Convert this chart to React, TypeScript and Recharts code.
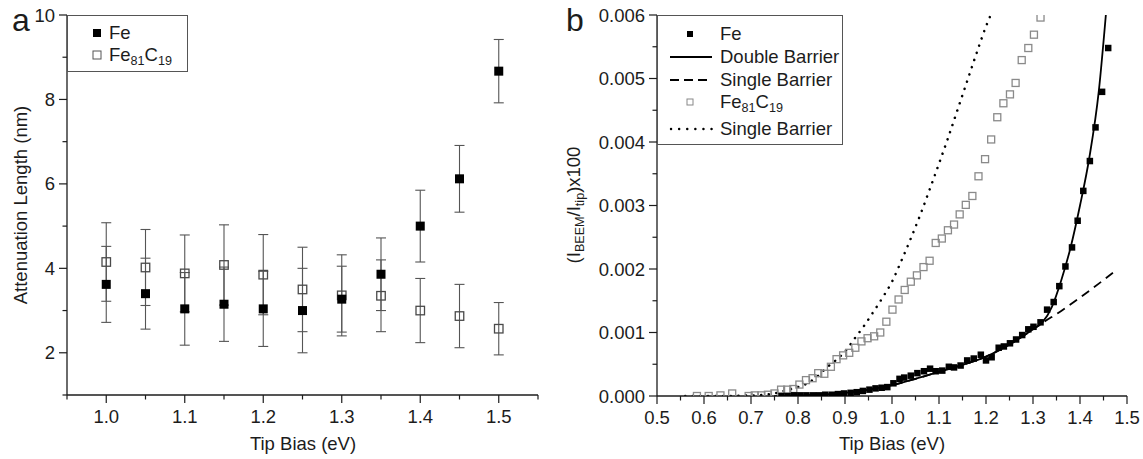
import { ComposedChart, Scatter, Line, XAxis, YAxis, ErrorBar } from "recharts";

const FONT = "'Liberation Sans', Arial, Helvetica, sans-serif";
const INK = "#1c1c1c";

// ---------- panel a: attenuation length ----------
const biasA = [1.0, 1.05, 1.1, 1.15, 1.2, 1.25, 1.3, 1.35, 1.4, 1.45, 1.5];
const feLen = [3.62, 3.4, 3.04, 3.15, 3.04, 3.0, 3.27, 3.86, 5.0, 6.12, 8.67];
const feErr = [0.9, 0.84, 0.86, 0.88, 0.89, 1.0, 0.78, 0.86, 0.85, 0.79, 0.75];
const fecLen = [4.15, 4.02, 3.88, 4.08, 3.85, 3.5, 3.36, 3.35, 3.0, 2.87, 2.57];
const fecErr = [0.93, 0.9, 0.91, 0.95, 0.95, 1.0, 0.96, 0.85, 0.76, 0.75, 0.62];

const xTicksA = [0.95, 1.0, 1.05, 1.1, 1.15, 1.2, 1.25, 1.3, 1.35, 1.4, 1.45, 1.5, 1.55];
const xLabelsA = [1.0, 1.1, 1.2, 1.3, 1.4, 1.5];
const yTicksA = [1, 2, 3, 4, 5, 6, 7, 8, 9, 10];
const yLabelsA = [2, 4, 6, 8, 10];

// ---------- panel b: BEEM current ----------
const feBias = [
  0.765, 0.778, 0.792, 0.805, 0.818, 0.832, 0.845, 0.858, 0.872, 0.885, 0.898, 0.912, 0.925, 0.938,
  0.952, 0.965, 0.978, 0.99, 1.003, 1.016, 1.026, 1.04, 1.054, 1.068, 1.081, 1.093, 1.107, 1.121,
  1.132, 1.146, 1.16, 1.174, 1.189, 1.2, 1.212, 1.227, 1.238, 1.251, 1.264, 1.277, 1.29, 1.301,
  1.316, 1.33, 1.344, 1.356, 1.369, 1.383, 1.395, 1.407, 1.421, 1.433, 1.447, 1.46,
];
const feCurrent = [
  0, 0, 0.00001, 0.00001, 0.00001, 0.00001, 0.00001, 0.00002, 0.00002, 0.00003, 0.00004, 0.00005,
  0.00006, 0.00008, 0.0001, 0.00012, 0.00013, 0.00014, 0.0002, 0.00027, 0.00029, 0.00032, 0.00036,
  0.00039, 0.00043, 0.00039, 0.0004, 0.00046, 0.00045, 0.00048, 0.00056, 0.00059, 0.00065, 0.00056,
  0.00061, 0.00076, 0.00078, 0.00083, 0.00089, 0.00096, 0.00105, 0.00109, 0.00116, 0.00136, 0.00148,
  0.00173, 0.00204, 0.00234, 0.00276, 0.00323, 0.0037, 0.00423, 0.00479, 0.00548,
];

const fecBias = [
  0.585, 0.61, 0.635, 0.66, 0.695, 0.708, 0.722, 0.736, 0.75, 0.764, 0.777, 0.79, 0.803, 0.817,
  0.831, 0.843, 0.856, 0.87, 0.882, 0.896, 0.909, 0.922, 0.935, 0.948, 0.962, 0.975, 0.988, 1.001,
  1.014, 1.027, 1.04, 1.053, 1.067, 1.08, 1.093, 1.106, 1.119, 1.132, 1.144, 1.157, 1.171, 1.184,
  1.198, 1.211, 1.224, 1.237, 1.251, 1.263, 1.276, 1.29, 1.302, 1.316,
];
const fecCurrent = [
  0, 0, 0.00001, 0.00004, 0, 0.00001, 0.00001, 0.00002, 0.00004, 0.0001, 0.0001, 0.00011, 0.00018,
  0.00025, 0.00028, 0.00036, 0.00035, 0.00046, 0.00058, 0.00064, 0.00068, 0.00076, 0.00086,
  0.00091, 0.00094, 0.001, 0.00117, 0.00136, 0.00152, 0.00167, 0.0018, 0.0019, 0.00203, 0.00213,
  0.00241, 0.00248, 0.00261, 0.0027, 0.00286, 0.00301, 0.00315, 0.00346, 0.00373, 0.00404, 0.00439,
  0.00461, 0.00475, 0.00493, 0.00529, 0.00548, 0.00569, 0.00596,
];

const doubleBias = [0.75, 0.8, 0.85, 0.9, 0.95, 1.0, 1.05, 1.1, 1.15, 1.2, 1.25, 1.3, 1.32, 1.34, 1.36, 1.38, 1.4, 1.42, 1.44, 1.455];
const doubleFit = [0, 0.000005, 0.00002, 0.00005, 0.0001, 0.00017, 0.00027, 0.00038, 0.00049, 0.00062, 0.00081, 0.00105, 0.00116, 0.0014, 0.00182, 0.00234, 0.003, 0.00376, 0.0048, 0.006];

const singleFeBias = [0.75, 0.8, 0.85, 0.9, 0.95, 1.0, 1.05, 1.1, 1.15, 1.2, 1.25, 1.3, 1.32, 1.36, 1.4, 1.44, 1.48];
const singleFeFit = [0, 0.000005, 0.00002, 0.00005, 0.0001, 0.00017, 0.00027, 0.00038, 0.00049, 0.00062, 0.00081, 0.00105, 0.00115, 0.00134, 0.00155, 0.00177, 0.002];

const singleFecBias = [0.56, 0.6, 0.64, 0.68, 0.71, 0.73, 0.75, 0.77, 0.79, 0.82, 0.84, 0.86, 0.88, 0.9, 0.92, 0.94, 0.96, 0.98, 1.0, 1.02, 1.04, 1.06, 1.08, 1.1, 1.12, 1.14, 1.16, 1.18, 1.2, 1.21];
const singleFecFit = [0, 0, 0, 0.000005, 0.00001, 0.00002, 0.00004, 0.00008, 0.00012, 0.0002, 0.0003, 0.00044, 0.00056, 0.0007, 0.0009, 0.0011, 0.00132, 0.00155, 0.0018, 0.00213, 0.00248, 0.00285, 0.00325, 0.00366, 0.00408, 0.00452, 0.00496, 0.0054, 0.00582, 0.006];

const xTicksB = [0.5, 0.55, 0.6, 0.65, 0.7, 0.75, 0.8, 0.85, 0.9, 0.95, 1.0, 1.05, 1.1, 1.15, 1.2, 1.25, 1.3, 1.35, 1.4, 1.45, 1.5];
const xLabelsB = [0.5, 0.6, 0.7, 0.8, 0.9, 1.0, 1.1, 1.2, 1.3, 1.4, 1.5];
const yTicksB = [0, 0.0005, 0.001, 0.0015, 0.002, 0.0025, 0.003, 0.0035, 0.004, 0.0045, 0.005, 0.0055, 0.006];
const yLabelsB = [0, 0.001, 0.002, 0.003, 0.004, 0.005, 0.006];

const pairs = (xs: number[], ys: number[]) => xs.map((x, i) => ({ x, y: ys[i] }));
const withErr = (xs: number[], ys: number[], es: number[]) =>
  xs.map((x, i) => ({ x, y: ys[i], err: es[i] }));

const near = (a: number, b: number) => Math.abs(a - b) < 1e-9;

const bottomTick = (labels: number[], digits: number) => (props: any) => {
  const { x, y, payload } = props;
  const major = labels.some((l) => near(l, payload.value));
  return (
    <g>
      <line x1={x} x2={x} y1={y} y2={y + (major ? 8 : 4.5)} stroke={INK} strokeWidth={1.2} />
      {major && (
        <text x={x} y={y + 28} textAnchor="middle" fontSize={18.5} fontFamily={FONT} fill={INK}>
          {payload.value.toFixed(digits)}
        </text>
      )}
    </g>
  );
};

const leftTick = (labels: number[], digits: number) => (props: any) => {
  const { x, y, payload } = props;
  const major = labels.some((l) => near(l, payload.value));
  return (
    <g>
      <line x1={x} x2={x - (major ? 8 : 4.5)} y1={y} y2={y} stroke={INK} strokeWidth={1.2} />
      {major && (
        <text x={x - 12} y={y + 6.5} textAnchor="end" fontSize={18.5} fontFamily={FONT} fill={INK}>
          {payload.value.toFixed(digits)}
        </text>
      )}
    </g>
  );
};

const topTick = (props: any) => {
  const { x, y } = props;
  return <line x1={x} x2={x} y1={y} y2={y + 4} stroke={INK} strokeWidth={1} />;
};

const square = (size: number, fill: string, stroke: string, sw: number) => (props: any) => {
  const { cx, cy } = props;
  if (cx == null || cy == null) return <g />;
  return (
    <rect x={cx - size / 2} y={cy - size / 2} width={size} height={size} fill={fill} stroke={stroke} strokeWidth={sw} />
  );
};

const FeC = () => (
  <span>
    Fe<sub style={{ fontSize: "0.68em", verticalAlign: "-0.3em" }}>81</sub>C
    <sub style={{ fontSize: "0.68em", verticalAlign: "-0.3em" }}>19</sub>
  </span>
);

const abs = (left: number, top: number): React.CSSProperties => ({ position: "absolute", left, top });

const PanelA = () => (
  <div style={abs(0, 0)}>
    <ComposedChart width={570} height={459} margin={{ top: 15, right: 32, bottom: 34, left: 27 }}>
      <XAxis
        dataKey="x"
        type="number"
        domain={[0.95, 1.55]}
        ticks={xTicksA}
        interval={0}
        tickSize={0}
        tickMargin={0}
        tickLine={false}
        tick={bottomTick(xLabelsA, 1)}
        height={30}
        stroke={INK}
        strokeWidth={1.3}
      />
      <XAxis
        xAxisId="top"
        orientation="top"
        type="number"
        domain={[0.95, 1.55]}
        ticks={xTicksA}
        interval={0}
        tickSize={0}
        tickLine={false}
        tick={topTick}
        height={0}
        stroke={INK}
        strokeWidth={1.3}
      />
      <YAxis
        type="number"
        domain={[1, 10]}
        ticks={yTicksA}
        interval={0}
        tickSize={0}
        tickMargin={0}
        tickLine={false}
        tick={leftTick(yLabelsA, 0)}
        width={40}
        stroke={INK}
        strokeWidth={1.3}
      />
      <YAxis yAxisId="right" orientation="right" domain={[1, 10]} tick={false} tickLine={false} width={0} stroke={INK} strokeWidth={1.3} />
      <Scatter data={withErr(biasA, fecLen, fecErr)} dataKey="y" isAnimationActive={false} shape={square(8.5, "none", "#4a4a4a", 1.3)}>
        <ErrorBar dataKey="err" direction="y" width={5} stroke="#555" strokeWidth={1.1} />
      </Scatter>
      <Scatter data={withErr(biasA, feLen, feErr)} dataKey="y" isAnimationActive={false} shape={square(9, "#000", "#000", 0)}>
        <ErrorBar dataKey="err" direction="y" width={5} stroke="#555" strokeWidth={1.1} />
      </Scatter>
    </ComposedChart>

    {/* legend a */}
    <div
      style={{
        ...abs(67, 15),
        width: 121,
        height: 57,
        boxSizing: "border-box",
        border: "1px solid #555",
        background: "#fff",
        fontSize: 18.5,
        lineHeight: 1,
      }}
    >
      <div style={{ ...abs(24, 8) }}>
        <svg width={10} height={10} style={{ position: "absolute", left: 0, top: 4 }}>
          <rect x={1} y={1} width={8} height={8} fill="#000" />
        </svg>
        <span style={{ position: "absolute", left: 17, top: 0 }}>Fe</span>
      </div>
      <div style={{ ...abs(24, 30) }}>
        <svg width={10} height={10} style={{ position: "absolute", left: 0, top: 4 }}>
          <rect x={1} y={1} width={8} height={8} fill="none" stroke="#555" strokeWidth={1} />
        </svg>
        <span style={{ position: "absolute", left: 17, top: 0, whiteSpace: "nowrap" }}>
          <FeC />
        </span>
      </div>
    </div>

    <div style={{ ...abs(12, 4), fontSize: 32, lineHeight: 1 }}>a</div>
    <div
      style={{
        ...abs(21, 205),
        transform: "translate(-50%, -50%) rotate(-90deg)",
        whiteSpace: "nowrap",
        fontSize: 18.5,
      }}
    >
      Attenuation Length (nm)
    </div>
    <div style={{ ...abs(303, 444), transform: "translate(-50%, -50%)", whiteSpace: "nowrap", fontSize: 18.5 }}>
      Tip Bias (eV)
    </div>
  </div>
);

const legendRows = [
  { top: 33, label: <span>Fe</span>, kind: "fe" },
  { top: 56, label: <span>Double Barrier</span>, kind: "solid" },
  { top: 79, label: <span>Single Barrier</span>, kind: "dash" },
  { top: 101, label: <FeC />, kind: "fec" },
  { top: 128, label: <span>Single Barrier</span>, kind: "dot" },
];

const LegendSample = ({ kind }: { kind: string }) => (
  <svg width={46} height={12} style={{ position: "absolute", left: 10, top: -6 }}>
    {kind === "fe" && <rect x={19} y={3} width={6} height={6} fill="#000" />}
    {kind === "fec" && <rect x={19} y={3} width={6} height={6} fill="none" stroke="#888" strokeWidth={1} />}
    {kind === "solid" && <line x1={2} x2={44} y1={6} y2={6} stroke="#000" strokeWidth={1.8} />}
    {kind === "dash" && <line x1={2} x2={44} y1={6} y2={6} stroke="#000" strokeWidth={1.8} strokeDasharray="9 5" />}
    {kind === "dot" && <line x1={3} x2={44} y1={6} y2={6} stroke="#000" strokeWidth={2.4} strokeDasharray="0.1 8" strokeLinecap="round" />}
  </svg>
);

const PanelB = () => (
  <div style={abs(570, 0)}>
    <ComposedChart width={573} height={459} margin={{ top: 15, right: 16, bottom: 33, left: 32 }}>
      <XAxis
        dataKey="x"
        type="number"
        domain={[0.5, 1.5]}
        ticks={xTicksB}
        interval={0}
        tickSize={0}
        tickMargin={0}
        tickLine={false}
        tick={bottomTick(xLabelsB, 1)}
        height={30}
        stroke={INK}
        strokeWidth={1.3}
        allowDataOverflow
      />
      <XAxis
        xAxisId="top"
        orientation="top"
        type="number"
        domain={[0.5, 1.5]}
        ticks={xTicksB}
        interval={0}
        tickSize={0}
        tickLine={false}
        tick={topTick}
        height={0}
        stroke={INK}
        strokeWidth={1.3}
      />
      <YAxis
        type="number"
        domain={[0, 0.006]}
        ticks={yTicksB}
        interval={0}
        tickSize={0}
        tickMargin={0}
        tickLine={false}
        tick={leftTick(yLabelsB, 3)}
        width={55}
        stroke={INK}
        strokeWidth={1.3}
        allowDataOverflow
      />
      <YAxis yAxisId="right" orientation="right" domain={[0, 0.006]} tick={false} tickLine={false} width={0} stroke={INK} strokeWidth={1.3} />
      <Line data={pairs(singleFecBias, singleFecFit)} dataKey="y" type="monotone" dot={false} stroke="#000" strokeWidth={2.5} strokeDasharray="0.1 7.5" strokeLinecap="round" isAnimationActive={false} />
      <Line data={pairs(singleFeBias, singleFeFit)} dataKey="y" type="monotone" dot={false} stroke="#000" strokeWidth={1.8} strokeDasharray="9 6" isAnimationActive={false} />
      <Line data={pairs(doubleBias, doubleFit)} dataKey="y" type="monotone" dot={false} stroke="#000" strokeWidth={1.8} isAnimationActive={false} />
      <Scatter data={pairs(fecBias, fecCurrent)} dataKey="y" isAnimationActive={false} shape={square(7, "none", "#8a8a8a", 1.3)} />
      <Scatter data={pairs(feBias, feCurrent)} dataKey="y" isAnimationActive={false} shape={square(6.5, "#000", "#000", 0)} />
    </ComposedChart>

    {/* legend b */}
    <div
      style={{
        ...abs(87, 15),
        width: 186,
        height: 130,
        boxSizing: "border-box",
        border: "1px solid #555",
        background: "#fff",
        fontSize: 18.5,
        lineHeight: 1,
      }}
    >
      {legendRows.map((r, i) => (
        <div key={i} style={abs(0, r.top - 15)}>
          <LegendSample kind={r.kind} />
          <span style={{ position: "absolute", left: 62, top: -9, whiteSpace: "nowrap" }}>{r.label}</span>
        </div>
      ))}
    </div>

    <div style={{ ...abs(-4, 4), fontSize: 32, lineHeight: 1 }}>b</div>
    <div
      style={{
        ...abs(5, 205),
        transform: "translate(-50%, -50%) rotate(-90deg)",
        whiteSpace: "nowrap",
        fontSize: 18.5,
      }}
    >
      (I<sub style={{ fontSize: "0.68em", verticalAlign: "-0.3em" }}>BEEM</sub>/I
      <sub style={{ fontSize: "0.68em", verticalAlign: "-0.3em" }}>tip</sub>)x100
    </div>
    <div style={{ ...abs(322, 444), transform: "translate(-50%, -50%)", whiteSpace: "nowrap", fontSize: 18.5 }}>
      Tip Bias (eV)
    </div>
  </div>
);

export default function App() {
  return (
    <div
      style={{
        position: "absolute",
        left: 0,
        top: 0,
        width: 1143,
        height: 459,
        background: "#fff",
        fontFamily: FONT,
        color: INK,
        overflow: "hidden",
      }}
    >
      <PanelA />
      <PanelB />
    </div>
  );
}
